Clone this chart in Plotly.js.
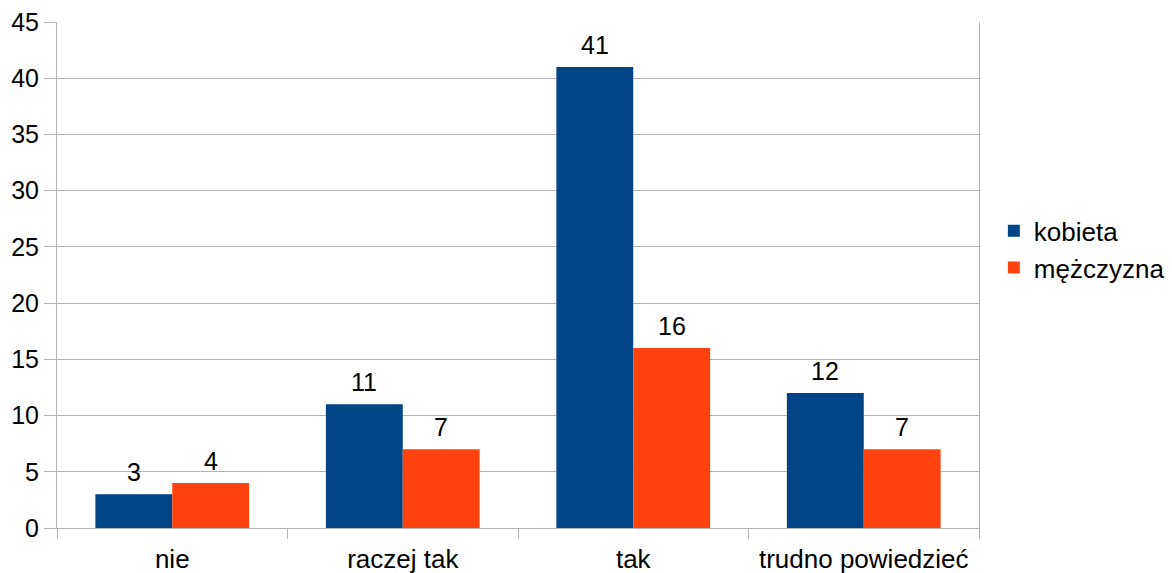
<!DOCTYPE html>
<html>
<head>
<meta charset="utf-8">
<script src="https://cdn.plot.ly/plotly-3.0.1.min.js"></script>
<style>html,body{margin:0;padding:0;background:#fff;}#chart{width:1172px;height:573px;}</style>
</head>
<body>
<div id="chart"></div>
<script>
var categories = ["nie", "raczej tak", "tak", "trudno powiedzieć"];
var kobieta = [3, 11, 41, 12];
var mezczyzna = [4, 7, 16, 7];
var seriesNames = ["kobieta", "mężczyzna"];
var yTicks = [0, 5, 10, 15, 20, 25, 30, 35, 40, 45];

var colors = ["#004586", "#ff420e"];
var fontFam = "Liberation Sans, Arial, sans-serif";

var traces = [
  {type: "bar", name: seriesNames[0], x: categories, y: kobieta, marker: {color: colors[0]}},
  {type: "bar", name: seriesNames[1], x: categories, y: mezczyzna, marker: {color: colors[1]}}
];

var annotations = [];
[kobieta, mezczyzna].forEach(function (vals, si) {
  vals.forEach(function (v, i) {
    annotations.push({
      x: categories[i], y: v, xref: "x", yref: "y",
      text: String(v), showarrow: false,
      xanchor: "center", yanchor: "bottom",
      xshift: si === 0 ? -38.5 : 38.5, yshift: 6,
      font: {family: fontFam, size: 25, color: "#000"}
    });
  });
});

var layout = {
  width: 1172, height: 573,
  margin: {l: 57, r: 193, t: 22, b: 45, autoexpand: false},
  paper_bgcolor: "#fff", plot_bgcolor: "#fff",
  barmode: "group", bargap: 0.333, bargroupgap: 0,
  font: {family: fontFam, size: 25, color: "#000"},
  showlegend: true,
  legend: {xref: "container", yref: "container", x: 0.848, y: 0.565, xanchor: "left", yanchor: "middle",
           font: {family: fontFam, size: 26, color: "#000"}},
  xaxis: {
    type: "category", showgrid: false, tickson: "boundaries",
    ticks: "outside", ticklen: 10, tickcolor: "#b3b3b3", tickwidth: 1,
    showline: true, linecolor: "#b3b3b3", linewidth: 1,
    ticklabelstandoff: 8,
    tickfont: {family: fontFam, size: 26, color: "#000"}
  },
  yaxis: {
    range: [0, 45], tickvals: yTicks, ticktext: yTicks.map(String),
    showgrid: true, gridcolor: "#b3b3b3", gridwidth: 1,
    ticks: "outside", ticklen: 12, tickcolor: "#b3b3b3",
    showline: true, mirror: true, linecolor: "#b3b3b3", linewidth: 1,
    zeroline: false,
    tickfont: {family: fontFam, size: 25, color: "#000"}
  },
  annotations: annotations
};

Plotly.newPlot("chart", traces, layout, {displayModeBar: false, staticPlot: true});
</script>
</body>
</html>
